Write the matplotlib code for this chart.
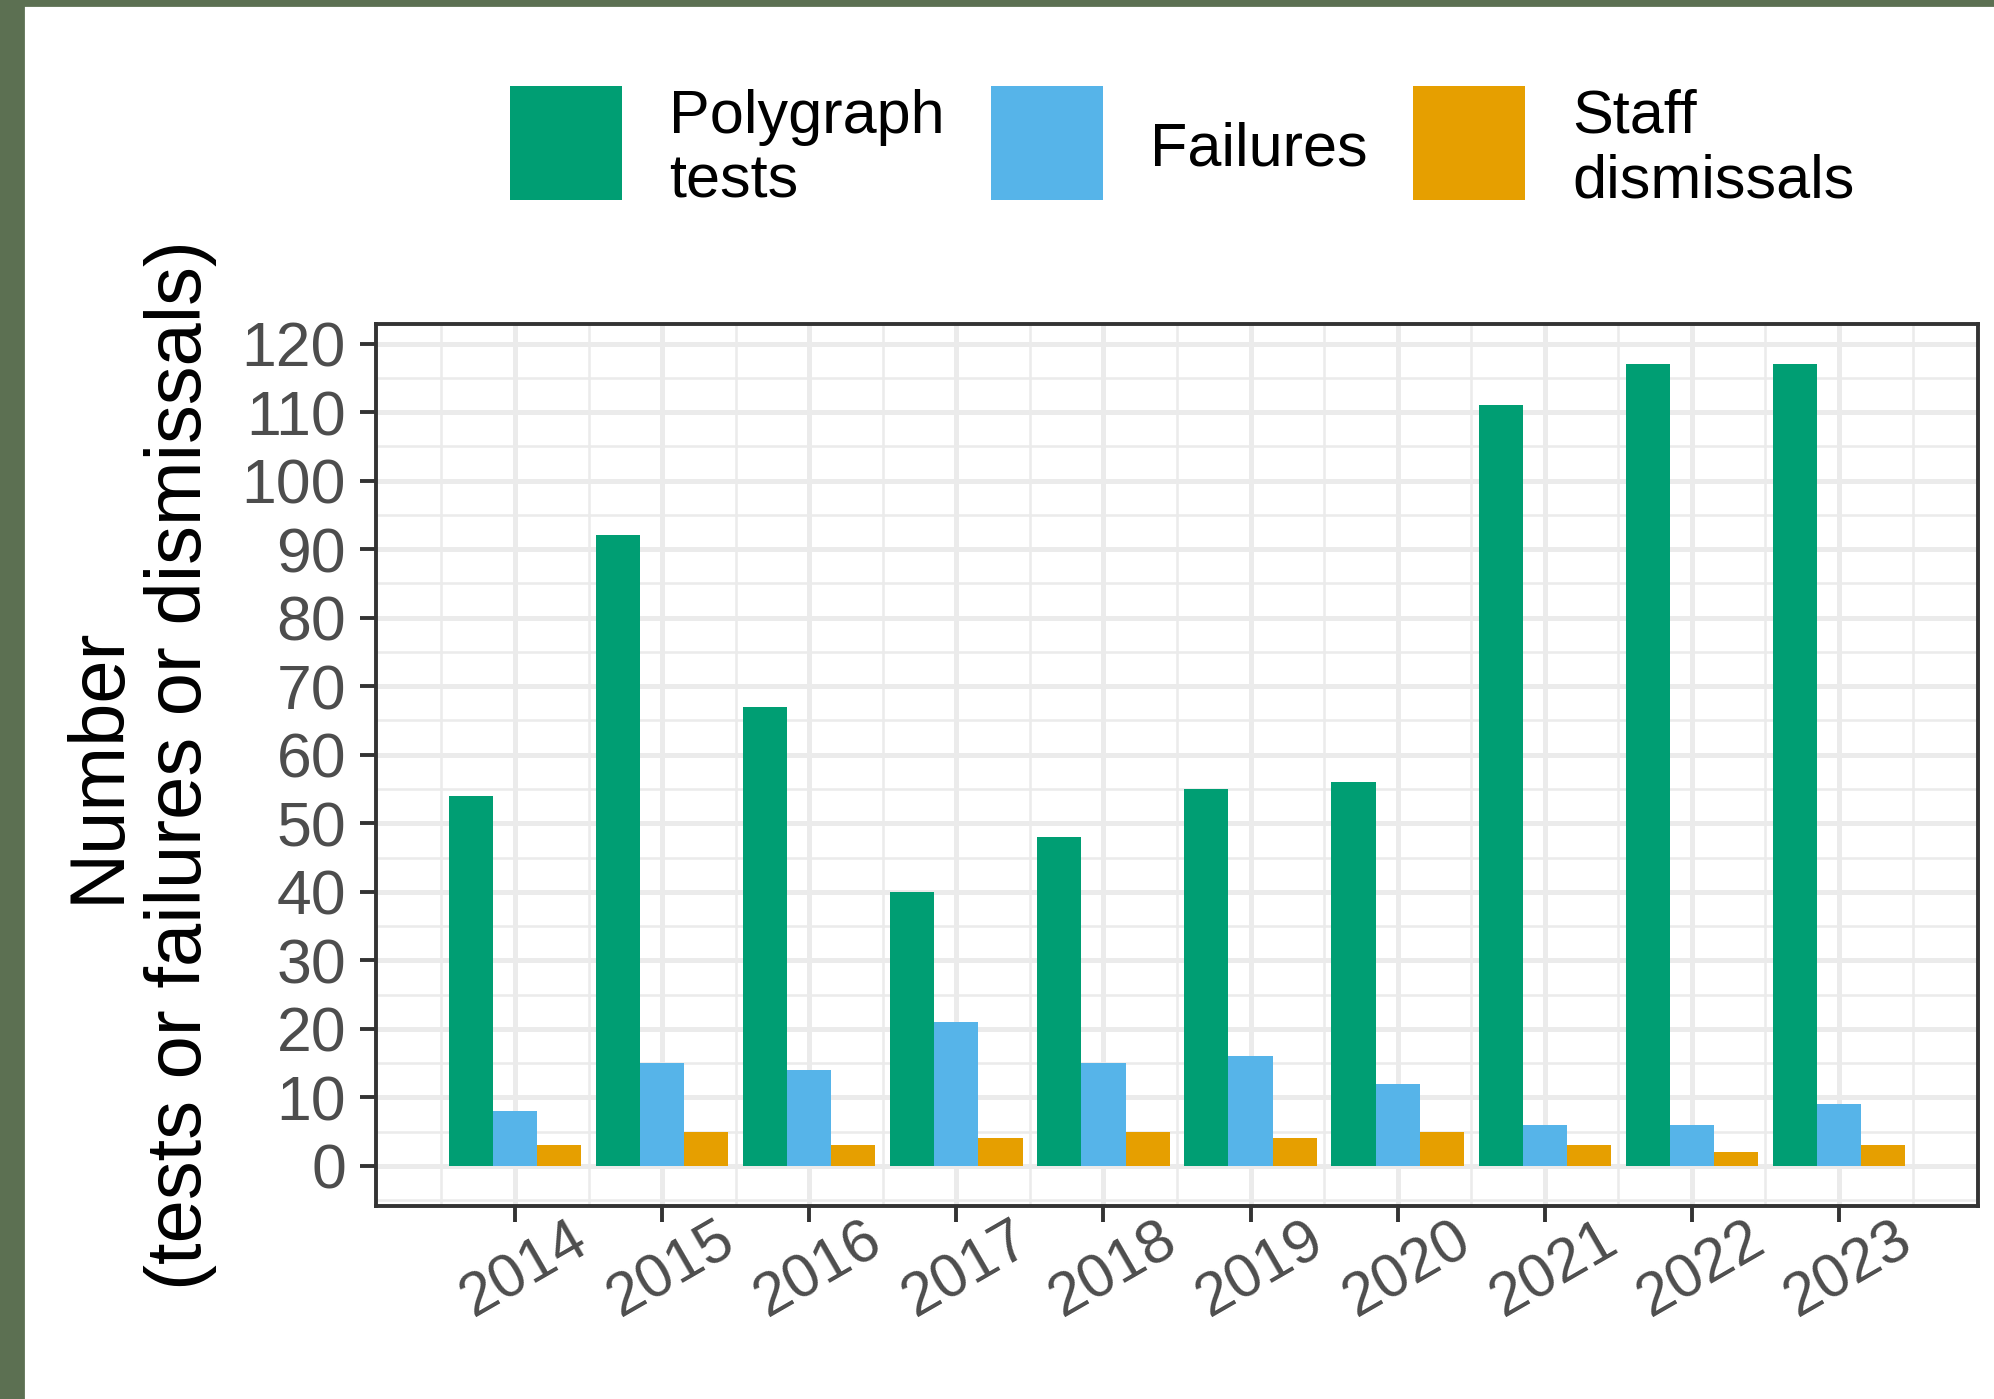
import numpy as np
import matplotlib.pyplot as plt
from matplotlib.patches import Rectangle
from matplotlib.ticker import MultipleLocator
from matplotlib.transforms import ScaledTranslation

plt.rcParams['font.family'] = ['Liberation Sans', 'DejaVu Sans']

years = [2014, 2015, 2016, 2017, 2018, 2019, 2020, 2021, 2022, 2023]
tests = [54, 92, 67, 40, 48, 55, 56, 111, 117, 117]
failures = [8, 15, 14, 21, 15, 16, 12, 6, 6, 9]
dismissals = [3, 5, 3, 4, 5, 4, 5, 3, 2, 3]
labels = ['Polygraph\ntests', 'Failures', 'Staff\ndismissals']
colors = ['#009E73', '#56B4E9', '#E69F00']

fig = plt.figure(figsize=(9.97, 6.995), dpi=200)
# dark green frame on left / top
fig.patches.append(Rectangle((0, 0), 23 / 1994, 1, transform=fig.transFigure, color='#5C7052', zorder=0))
fig.patches.append(Rectangle((0, 1 - 5 / 1399), 1, 5 / 1399, transform=fig.transFigure, color='#5C7052', zorder=0))

ax = fig.add_axes([376 / 1994, 1 - 1206 / 1399, (1978 - 376) / 1994, (1206 - 324) / 1399])

x = np.array(years, dtype=float)
w = 0.3
bars = []
for i, vals in enumerate([tests, failures, dismissals]):
    b = ax.bar(x + (i - 1) * w, vals, width=w, color=colors[i], linewidth=0, zorder=3)
    bars.append(b)

ax.set_xlim(2013.055, 2023.945)
ax.set_ylim(-5.85, 122.85)
ax.set_xticks(years)
ax.set_xticklabels([str(y) for y in years])
ax.xaxis.set_minor_locator(MultipleLocator(0.5))
ax.set_yticks(np.arange(0, 121, 10))
ax.yaxis.set_minor_locator(MultipleLocator(5))

ax.grid(which='major', color='#EBEBEB', linewidth=1.8, zorder=0)
ax.grid(which='minor', color='#EBEBEB', linewidth=0.9, zorder=0)
ax.set_axisbelow(True)
ax.tick_params(which='minor', length=0)
ax.tick_params(which='major', length=5.8, width=1.4, color='#333333', labelcolor='#4D4D4D', pad=5)
ax.tick_params(axis='y', labelsize=22.5)
ax.tick_params(axis='x', labelsize=22, pad=-4)
shift = ScaledTranslation(10 / 200, 0, fig.dpi_scale_trans)
for lab in ax.get_xticklabels():
    lab.set_rotation(30)
    lab.set_ha('center')
    lab.set_transform(lab.get_transform() + shift)
for s in ax.spines.values():
    s.set_color('#333333')
    s.set_linewidth(1.4)

ax.set_ylabel('Number\n(tests or failures or dismissals)', fontsize=28, color='black',
              labelpad=9, linespacing=1.16)

leg = fig.legend(bars, labels, loc='center', bbox_to_anchor=(0.593, 0.9), ncol=3,
                 frameon=False, fontsize=22, handlelength=1.83, handleheight=2.5,
                 handletextpad=0.77, columnspacing=0.75)
for t in leg.get_texts():
    t.set_linespacing(1.18)
    dy = 10 if '\n' in t.get_text() else 4
    t.set_transform(t.get_transform() + ScaledTranslation(0, -dy / 200, fig.dpi_scale_trans))

fig.savefig('out.png', dpi=200)
